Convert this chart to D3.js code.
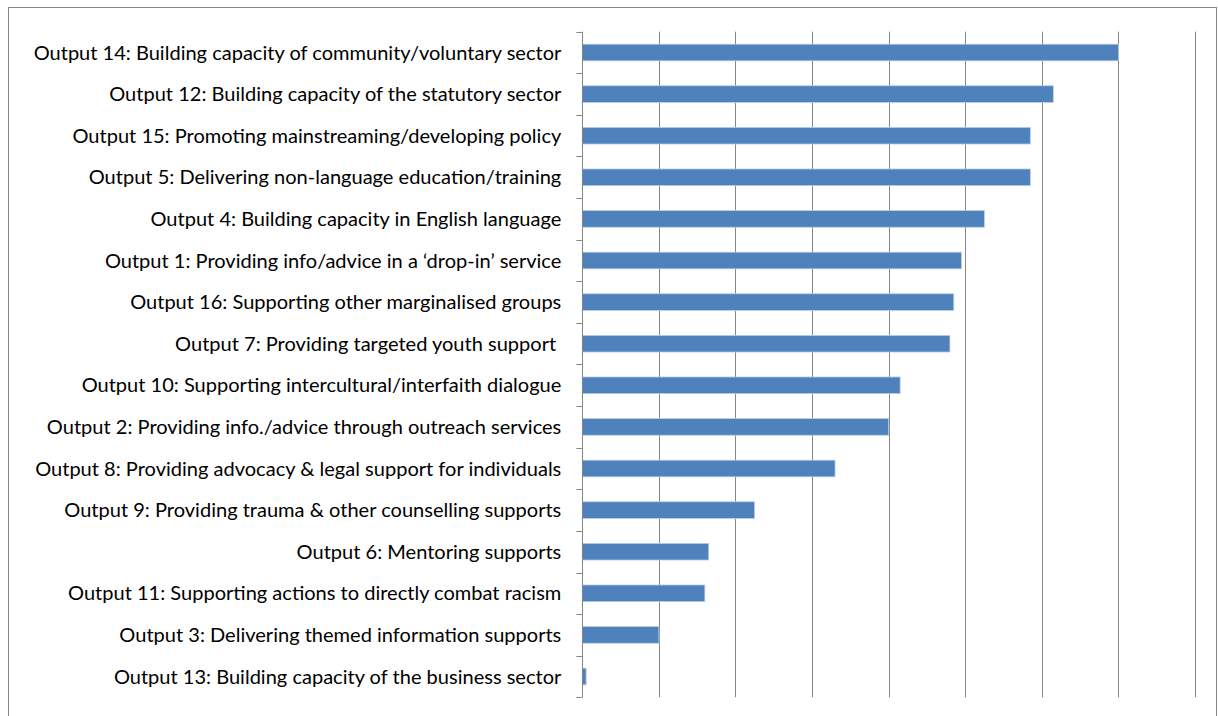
<!DOCTYPE html>
<html>
<head>
<meta charset="utf-8">
<script src="https://cdn.jsdelivr.net/npm/d3@7"></script>
<style>
  html, body { margin: 0; padding: 0; background: #fff; }
  svg { display: block; }
</style>
</head>
<body>
<svg id="chart" width="1218" height="716"></svg>
<script>
// Outputs, listed top to bottom
const categories = [
  "Output 14: Building capacity of community/voluntary sector",
  "Output 12: Building capacity of the statutory sector",
  "Output 15: Promoting mainstreaming/developing policy",
  "Output 5: Delivering non-language education/training",
  "Output 4: Building capacity in English language",
  "Output 1: Providing info/advice in a \u2018drop-in\u2019 service",
  "Output 16: Supporting other marginalised groups",
  "Output 7: Providing targeted youth support ",
  "Output 10: Supporting intercultural/interfaith dialogue",
  "Output 2: Providing info./advice through outreach services",
  "Output 8: Providing advocacy & legal support for individuals",
  "Output 9: Providing trauma & other counselling supports",
  "Output 6: Mentoring supports",
  "Output 11: Supporting actions to directly combat racism",
  "Output 3: Delivering themed information supports",
  "Output 13: Building capacity of the business sector"
];
const values = [14.0, 12.3, 11.7, 11.7, 10.5, 9.9, 9.7, 9.6, 8.3, 8.0, 6.6, 4.5, 3.3, 3.2, 2.0, 0.1];
const gridTicks = [0, 2, 4, 6, 8, 10, 12, 14, 16];

const svg = d3.select("#chart");
const W = 1218, H = 716;
const plot = { left: 582.3, right: 1195, top: 31.7, bottom: 697.3 };
const gray = "#868686";

// chart frame
svg.append("rect")
  .attr("x", 8.5).attr("y", 7.5)
  .attr("width", 1208).attr("height", 720)
  .attr("fill", "#fff").attr("stroke", gray).attr("stroke-width", 1);

const x = d3.scaleLinear().domain([0, 16]).range([plot.left, plot.right]);
const y = d3.scaleBand().domain(categories).range([plot.top, plot.bottom]).paddingInner(0.6).paddingOuter(0.3);

// vertical gridlines
svg.append("g").selectAll("line").data(gridTicks.slice(1)).join("line")
  .attr("x1", d => Math.round(x(d)) + 0.5).attr("x2", d => Math.round(x(d)) + 0.5)
  .attr("y1", plot.top).attr("y2", plot.bottom)
  .attr("stroke", gray).attr("stroke-width", 1);

// bars
svg.append("g").selectAll("rect").data(values).join("rect")
  .attr("x", x(0))
  .attr("y", (d, i) => y(categories[i]))
  .attr("width", d => x(d) - x(0))
  .attr("height", y.bandwidth())
  .attr("fill", "#4f81bd")
  .attr("stroke", "#b9cde5").attr("stroke-width", 0.8);

// category axis with boundary ticks
const step = (plot.bottom - plot.top) / categories.length;
const bounds = d3.range(categories.length + 1).map(i => plot.top + i * step);
const ax = svg.append("g");
ax.append("line")
  .attr("x1", Math.round(plot.left) + 0.5).attr("x2", Math.round(plot.left) + 0.5)
  .attr("y1", plot.top).attr("y2", plot.bottom)
  .attr("stroke", gray).attr("stroke-width", 1);
ax.selectAll("line.tick").data(bounds).join("line").attr("class", "tick")
  .attr("x1", plot.left - 6).attr("x2", plot.left)
  .attr("y1", d => Math.round(d) + 0.5).attr("y2", d => Math.round(d) + 0.5)
  .attr("stroke", gray).attr("stroke-width", 1);

// category labels
const labels = svg.append("g")
  .attr("font-family", "Lato, 'Open Sans', sans-serif")
  .attr("fill", "#000");
const lab = labels.selectAll("text").data(categories).join("text")
  .attr("x", plot.left - 21)
  .attr("y", d => y(d) + y.bandwidth() / 2)
  .attr("dy", "0.35em")
  .attr("text-anchor", "end")
  .style("white-space", "pre")
  .attr("font-size", 17)
  .text(d => d);

// size the labels so the longest one fills the space left of the axis
const longest = d3.max(lab.nodes(), n => n.getComputedTextLength());
const fs = 17 * 528 / longest;
lab.attr("font-size", fs);
</script>
</body>
</html>
